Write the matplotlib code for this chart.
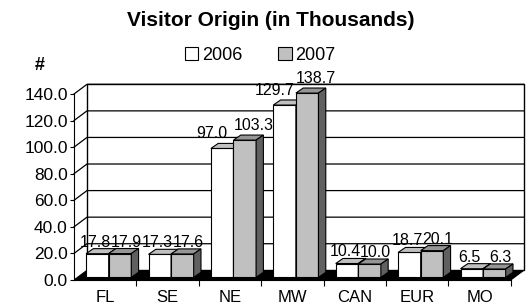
import matplotlib
matplotlib.use("Agg")
import matplotlib.pyplot as plt
from matplotlib.patches import Polygon, Patch

plt.rcParams['font.family'] = ['Liberation Sans', 'DejaVu Sans']

categories = ['FL', 'SE', 'NE', 'MW', 'CAN', 'EUR', 'MO']
visitors_2006 = [17.8, 17.3, 97.0, 129.7, 10.4, 18.7, 6.5]
visitors_2007 = [17.9, 17.6, 103.3, 138.7, 10.0, 20.1, 6.3]
y_ticks = [0, 20, 40, 60, 80, 100, 120, 140]

# fake 3d: offsets de profundidad en unidades de datos
px = 1 / 62.4          # un pixel en x
wall_dx, wall_dy = 0.208, 7.3
shift_dx, shift_dy = 0.056, 2.0
bar_dx, bar_dy = 0.117, 3.8
bar_w = 0.362

series = [
    (visitors_2006, 'white', '#c0c0c0', '#808080'),
    (visitors_2007, '#c0c0c0', '#969696', '#606060'),
]

fig = plt.figure(figsize=(5.26, 3.08), dpi=100)
ax = fig.add_axes([74 / 526, 0.0823, 452 / 526, 0.647])
n = len(categories)
ax.set_xlim(0, 452 / 62.4)
ax.set_ylim(-2, 148)

# paredes y piso
ax.add_patch(Polygon([(0, 0), (n, 0), (n + wall_dx, wall_dy), (wall_dx, wall_dy)],
                     closed=True, facecolor='black', edgecolor='black', lw=0.8, zorder=1))
ax.add_patch(Polygon([(wall_dx, wall_dy), (n + wall_dx, wall_dy), (n + wall_dx, 140 + wall_dy),
                      (wall_dx, 140 + wall_dy)], closed=True, facecolor='white',
                     edgecolor='black', lw=1.0, zorder=1, clip_on=False))
for v in y_ticks[1:]:
    ax.plot([0, wall_dx, n + wall_dx], [v, v + wall_dy, v + wall_dy],
            color='black', lw=0.9, zorder=1.5, clip_on=False)

# barras
for s, (vals, front, top, side) in enumerate(series):
    other = series[1 - s][0]
    for i, v in enumerate(vals):
        x0 = i + 0.5 - bar_w + s * bar_w + shift_dx
        y0 = shift_dy
        ax.bar(x0, v, width=bar_w, bottom=y0, align='edge', color=front,
               edgecolor='black', lw=0.8, zorder=3 + s)
        ax.add_patch(Polygon([(x0, y0 + v), (x0 + bar_w, y0 + v),
                              (x0 + bar_w + bar_dx, y0 + v + bar_dy), (x0 + bar_dx, y0 + v + bar_dy)],
                             closed=True, facecolor=top, edgecolor='black', lw=0.8, zorder=3 + s))
        ax.add_patch(Polygon([(x0 + bar_w, y0), (x0 + bar_w + bar_dx, y0 + bar_dy),
                              (x0 + bar_w + bar_dx, y0 + v + bar_dy), (x0 + bar_w, y0 + v)],
                             closed=True, facecolor=side, edgecolor='black', lw=0.8, zorder=3 + s))
        # etiquetas: se corren hacia afuera si la barra vecina es mas alta
        taller = other[i] > v + 3
        if s == 0:
            lx = x0 + bar_w / 2 - (2 + 8 * taller) * px
        else:
            lx = x0 + bar_w / 2 + (6 + 3 * (v > other[i] + 3)) * px
        dy = 1.5 + 2.5 * (v > 50)
        ax.text(lx, v + y0 + bar_dy + dy, f'{v:.1f}',
                ha='center', va='baseline', fontsize=11.5, zorder=6)

# ejes
for sp in ['top', 'right']:
    ax.spines[sp].set_visible(False)
ax.spines['left'].set_bounds(0, 140)
ax.spines['bottom'].set_position(('data', 0))
ax.spines['bottom'].set_bounds(0, n)
ax.spines['left'].set_zorder(2)
ax.set_yticks(y_ticks)
ax.set_yticklabels([f'{v:.1f}' for v in y_ticks], fontsize=12.5)
ax.tick_params(axis='y', length=3, width=0.8, pad=1.5)
ax.set_xticks(range(1, n + 1))
ax.set_xticklabels([])
ax.set_xticks([i + 0.5 for i in range(n)], minor=True)
ax.set_xticklabels(categories, minor=True, fontsize=12)
ax.tick_params(axis='x', which='major', length=4, width=0.8)
ax.tick_params(axis='x', which='minor', length=0, pad=7)

fig.text(271 / 526, 1 - 20 / 308, 'Visitor Origin (in Thousands)', ha='center', va='center',
         fontsize=15, fontweight='bold')
fig.text(40 / 526, 1 - 65 / 308, '#', ha='center', va='center', fontsize=13, fontweight='bold')

handles = [Patch(facecolor='white', edgecolor='black', lw=0.8),
           Patch(facecolor='#c0c0c0', edgecolor='black', lw=0.8)]
fig.legend(handles, ['2006', '2007'], loc='center', bbox_to_anchor=(260 / 526, 1 - 55 / 308),
           ncol=2, frameon=False, fontsize=13, handlelength=0.75, handleheight=0.75,
           handletextpad=0.2, columnspacing=2.0)

fig.savefig('out.png', dpi=100)
